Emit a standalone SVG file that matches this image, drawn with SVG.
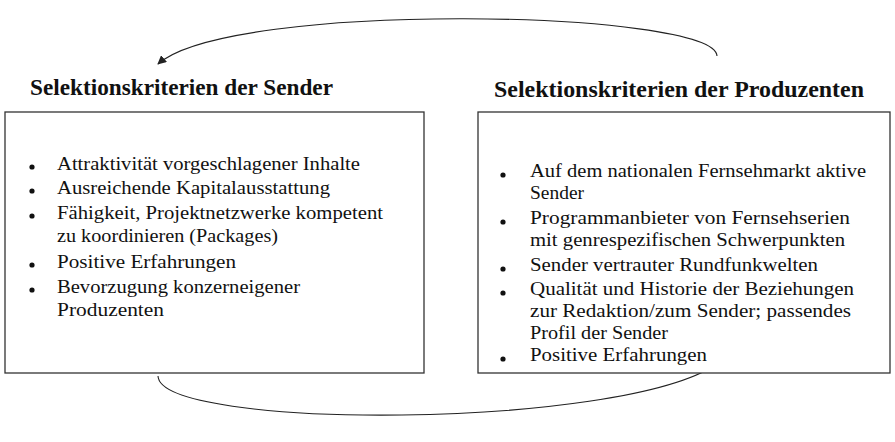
<svg xmlns="http://www.w3.org/2000/svg" width="895" height="442" viewBox="0 0 895 442">
<style>
.box{fill:#fff;stroke:#333;stroke-width:1.3}
.title{font-family:"Liberation Serif","Times New Roman",serif;font-weight:bold;font-size:23px;fill:#111}
.item{font-family:"Liberation Serif","Times New Roman",serif;font-size:19.5px;fill:#111}
.bul{fill:#111}
.conn{fill:none;stroke:#222;stroke-width:1.1}
</style>
<defs>
<marker id="ah" viewBox="0 0 10 10" refX="9" refY="5" markerWidth="9" markerHeight="9" markerUnits="userSpaceOnUse" orient="auto">
<path d="M0,0 L10,5 L0,10 z" fill="#222"/>
</marker>
</defs>
<rect width="895" height="442" fill="#fff"/>
<g id="connectors">
<path class="conn" d="M 717 56 C 715 10, 230 0, 158 64" marker-end="url(#ah)"/>
<path class="conn" d="M 158 376 C 160 430, 620 430, 717 364" marker-end="url(#ah)"/>
</g>
<g id="sender">
<text class="title" x="30" y="95" textLength="303" lengthAdjust="spacingAndGlyphs">Selektionskriterien der Sender</text>
<rect class="box" x="5" y="112" width="419" height="261"/>
<g class="item">
<text x="57" y="170" textLength="303" lengthAdjust="spacingAndGlyphs">Attraktivität vorgeschlagener Inhalte</text>
<text x="57" y="194" textLength="273" lengthAdjust="spacingAndGlyphs">Ausreichende Kapitalausstattung</text>
<text x="57" y="219" textLength="326" lengthAdjust="spacingAndGlyphs">Fähigkeit, Projektnetzwerke kompetent</text>
<text x="57" y="242" textLength="221" lengthAdjust="spacingAndGlyphs">zu koordinieren (Packages)</text>
<text x="57" y="268" textLength="179" lengthAdjust="spacingAndGlyphs">Positive Erfahrungen</text>
<text x="57" y="293" textLength="243" lengthAdjust="spacingAndGlyphs">Bevorzugung konzerneigener</text>
<text x="57" y="316" textLength="107" lengthAdjust="spacingAndGlyphs">Produzenten</text>
</g>
<g class="bul">
<circle cx="32" cy="167" r="2.6"/>
<circle cx="32" cy="191" r="2.6"/>
<circle cx="32" cy="216" r="2.6"/>
<circle cx="32" cy="265" r="2.6"/>
<circle cx="32" cy="290" r="2.6"/>
</g>
</g>
<g id="produzenten">
<text class="title" x="494" y="97" textLength="370" lengthAdjust="spacingAndGlyphs">Selektionskriterien der Produzenten</text>
<rect class="box" x="478" y="112" width="412" height="261"/>
<g class="item">
<text x="530" y="177" textLength="336" lengthAdjust="spacingAndGlyphs">Auf dem nationalen Fernsehmarkt aktive</text>
<text x="530" y="199" textLength="54" lengthAdjust="spacingAndGlyphs">Sender</text>
<text x="530" y="224" textLength="320" lengthAdjust="spacingAndGlyphs">Programmanbieter von Fernsehserien</text>
<text x="530" y="246" textLength="315" lengthAdjust="spacingAndGlyphs">mit genrespezifischen Schwerpunkten</text>
<text x="530" y="271" textLength="288" lengthAdjust="spacingAndGlyphs">Sender vertrauter Rundfunkwelten</text>
<text x="530" y="295" textLength="324" lengthAdjust="spacingAndGlyphs">Qualität und Historie der Beziehungen</text>
<text x="530" y="317" textLength="321" lengthAdjust="spacingAndGlyphs">zur Redaktion/zum Sender; passendes</text>
<text x="530" y="339" textLength="138" lengthAdjust="spacingAndGlyphs">Profil der Sender</text>
<text x="530" y="361" textLength="177" lengthAdjust="spacingAndGlyphs">Positive Erfahrungen</text>
</g>
<g class="bul">
<circle cx="503" cy="175" r="2.6"/>
<circle cx="503" cy="222" r="2.6"/>
<circle cx="503" cy="269" r="2.6"/>
<circle cx="503" cy="293" r="2.6"/>
<circle cx="503" cy="359" r="2.6"/>
</g>
</g>
</svg>
